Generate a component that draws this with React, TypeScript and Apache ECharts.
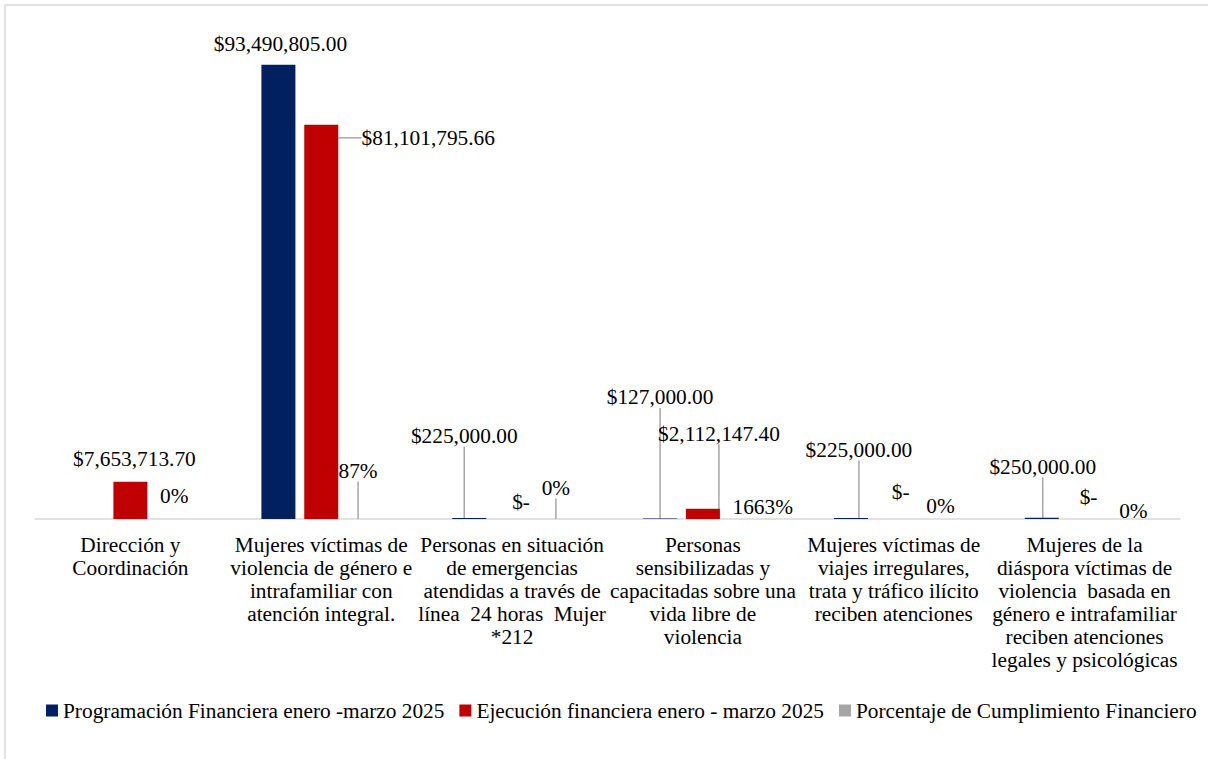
import React, { useEffect, useRef } from 'react';
import * as echarts from 'echarts';

// ---- Data ----
const categories = [
  'Dirección y\nCoordinación',
  'Mujeres víctimas de\nviolencia de género e\nintrafamiliar con\natención integral.',
  'Personas en situación\nde emergencias\natendidas a través de\nlínea  24 horas  Mujer\n*212',
  'Personas\nsensibilizadas y\ncapacitadas sobre una\nvida libre de\nviolencia',
  'Mujeres víctimas de\nviajes irregulares,\ntrata y tráfico ilícito\nreciben atenciones',
  'Mujeres de la\ndiáspora víctimas de\nviolencia  basada en\ngénero e intrafamiliar\nreciben atenciones\nlegales y psicológicas',
];
const seriesNames = [
  'Programación Financiera enero -marzo 2025',
  'Ejecución financiera enero - marzo 2025',
  'Porcentaje de Cumplimiento Financiero',
];
const programacion: (number | null)[] = [null, 93490805.0, 225000.0, 127000.0, 225000.0, 250000.0];
const ejecucion = [7653713.7, 81101795.66, 0, 2112147.4, 0, 0];
const cumplimiento = [0, 0.87, 0, 16.63, 0, 0];

// ---- Label placement (px offsets of label centre from bar top-centre) ----
const progLabelOffsets = [null, [2, -21], [-5, -82], [0, -121], [8, -68], [1, -51]];
const execLabelOffsets = [[4, -23], [107, 13], [9, -17], [16, -75], [7, -27], [4, -22]];
const pctLabelOffsets = [[1, -23], [-6, -48], [1, -31], [17, -12], [4, -13], [6, -8]];
const progLeader = [false, false, true, true, true, true];
const execLeader = [false, true, false, true, false, false];
const pctLeader = [false, true, true, false, false, false];

const FONT = "'Liberation Serif', 'DejaVu Serif', 'Times New Roman', serif";
const FS = 21.33;
const LEADER = '#A6A6A6';

const money = (v: number) =>
  v === 0
    ? '$-'
    : '$' + v.toLocaleString('en-US', { minimumFractionDigits: 2, maximumFractionDigits: 2 });
const pct = (v: number) => `${Math.round(v * 100)}%`;

const mkLayout = (offs: (number[] | null)[]) => (p: any) => {
  const o = offs[p.dataIndex];
  if (!o) return {};
  const r = p.rect;
  const cx = r.x + r.width / 2;
  const top = Math.min(r.y, r.y + r.height);
  return { x: cx + o[0], y: top + o[1], align: 'center', verticalAlign: 'middle' };
};

const mkData = (vals: (number | null)[], leaders: boolean[]) =>
  vals.map((v, i) => (v == null ? '-' : { value: v, labelLine: { show: leaders[i] } }));

export default function App() {
  const ref = useRef<HTMLDivElement>(null);
  useEffect(() => {
    if (!ref.current) return;
    const chart = echarts.init(ref.current, undefined, { renderer: 'svg' });
    const labelBase = {
      show: true,
      position: 'top',
      fontFamily: FONT,
      fontSize: FS,
      color: '#000',
    };
    const labelLineBase = { show: false, lineStyle: { color: LEADER, width: 1.5 } };
    chart.setOption({
      animation: false,
      backgroundColor: '#fff',
      textStyle: { fontFamily: FONT },
      graphic: [
        {
          type: 'rect',
          silent: true,
          z: -10,
          shape: { x: 5, y: 5, width: 1400, height: 1000 },
          style: { fill: 'none', stroke: '#D9D9D9', lineWidth: 1.5 },
        },
      ],
      legend: {
        data: seriesNames,
        left: 41,
        top: 695,
        icon: 'rect',
        itemWidth: 12,
        itemHeight: 12,
        itemGap: 15,
        textStyle: { fontFamily: FONT, fontSize: FS, color: '#000' },
      },
      grid: { left: 35, right: 28, top: 33, bottom: 240, containLabel: false },
      xAxis: {
        type: 'category',
        data: categories,
        axisLine: { show: true, lineStyle: { color: '#D9D9D9', width: 1.5 } },
        axisTick: { show: false },
        axisLabel: {
          interval: 0,
          fontFamily: FONT,
          fontSize: FS,
          lineHeight: 23,
          color: '#000',
          margin: 14,
        },
      },
      yAxis: {
        type: 'value',
        show: false,
        min: 0,
        max: 100000000,
        splitLine: { show: false },
      },
      series: [
        {
          name: seriesNames[0],
          type: 'bar',
          barWidth: 34,
          barGap: '26%',
          itemStyle: { color: '#002060' },
          data: mkData(programacion, progLeader),
          label: { ...labelBase, formatter: (p: any) => money(p.value) },
          labelLine: labelLineBase,
          labelLayout: mkLayout(progLabelOffsets),
        },
        {
          name: seriesNames[1],
          type: 'bar',
          barWidth: 34,
          barGap: '26%',
          itemStyle: { color: '#C00000' },
          data: mkData(ejecucion, execLeader),
          label: { ...labelBase, formatter: (p: any) => money(p.value) },
          labelLine: labelLineBase,
          labelLayout: mkLayout(execLabelOffsets),
        },
        {
          name: seriesNames[2],
          type: 'bar',
          barWidth: 34,
          barGap: '26%',
          itemStyle: { color: '#A5A5A5' },
          data: mkData(cumplimiento, pctLeader),
          label: { ...labelBase, formatter: (p: any) => pct(p.value) },
          labelLine: labelLineBase,
          labelLayout: mkLayout(pctLabelOffsets),
        },
      ],
    });
    return () => chart.dispose();
  }, []);
  return (
    <div
      ref={ref}
      style={{ position: 'fixed', left: 0, top: 0, width: 1208, height: 759, background: '#fff' }}
    />
  );
}
